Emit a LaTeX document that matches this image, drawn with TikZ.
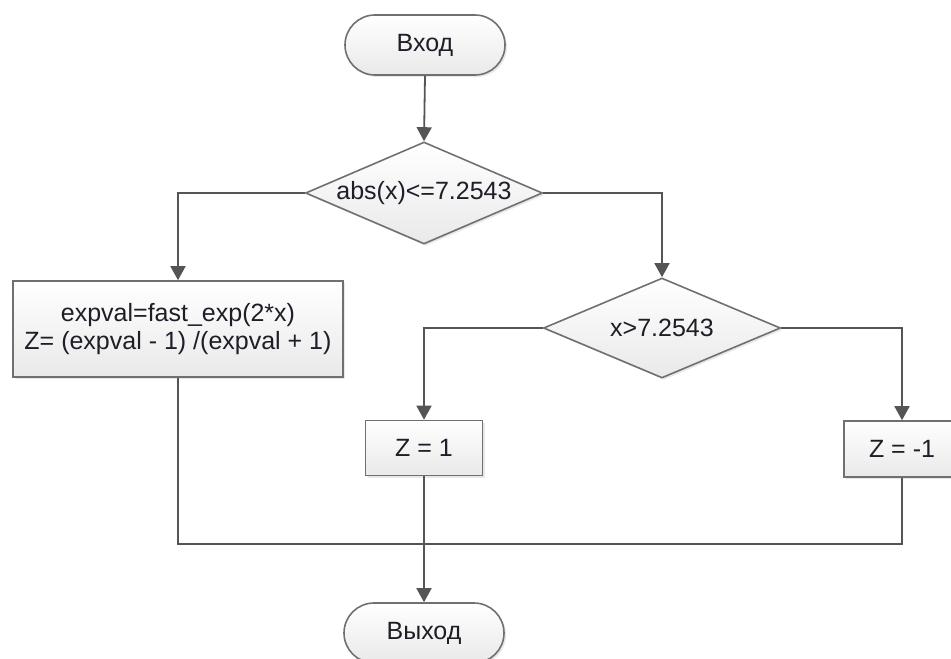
\documentclass[tikz,border=0pt]{standalone}
\usepackage{fontspec}
\setmainfont{Liberation Sans}
\usetikzlibrary{shapes.geometric,shapes.misc,arrows.meta,shadows}
\definecolor{edgegray}{HTML}{707070}
\definecolor{linegray}{HTML}{555555}
\definecolor{txt}{HTML}{1E1E28}
\definecolor{fillbot}{HTML}{E9E9E9}
\begin{document}
\begin{tikzpicture}[x=1pt,y=-1pt,
  every node/.style={font=\fontsize{25}{28}\selectfont, text=txt},
  blockbase/.style={draw=edgegray, line width=1.6pt, top color=white, bottom color=fillbot,
    drop shadow={opacity=0.18, shadow xshift=2pt, shadow yshift=-2pt}},
  terminal/.style={blockbase, rounded rectangle, minimum width=160pt, minimum height=60pt, inner sep=0pt},
  decision/.style={blockbase, diamond, aspect=2.3, inner sep=0pt, minimum width=237pt, minimum height=102pt},
  process/.style={blockbase, rectangle, inner sep=0pt, align=center},
  flow/.style={draw=linegray, line width=1.8pt},
  arrowflow/.style={flow, -{Triangle[width=15pt,length=14pt]}}
]
\useasboundingbox (0,0) rectangle (951,659);

% blocks
\node[terminal] (start) at (425,45) {Вход};
\node[decision] (d1) at (424,193) {abs(x)<=7.2543};
\node[process, minimum width=330pt, minimum height=96pt] (calc) at (178,329)
  {expval=fast\_exp(2*x)\\Z= (expval - 1) /(expval + 1)};
\node[decision, minimum height=100pt] (d2) at (662,328) {x>7.2543};
\node[process, minimum width=117pt, minimum height=55pt] (zone) at (424,448) {Z = 1};
\node[process, minimum width=116pt, minimum height=56pt] (zminus) at (902,449) {Z = -1};
\node[terminal] (stop) at (424,633) {Выход};
\coordinate (merge) at (424,544);

% connectors
\draw[arrowflow] (start.south) -- (d1.north);
\draw[arrowflow] (d1.west) -| (calc.north);
\draw[arrowflow] (d1.east) -| (d2.north);
\draw[arrowflow] (d2.west) -| (zone.north);
\draw[arrowflow] (d2.east) -| (zminus.north);
\draw[flow] (calc.south) |- (merge);
\draw[flow] (zminus.south) |- (merge);
\draw[flow] (zone.south) -- (merge);
\draw[arrowflow] (merge) -- (stop.north);
\end{tikzpicture}
\end{document}
